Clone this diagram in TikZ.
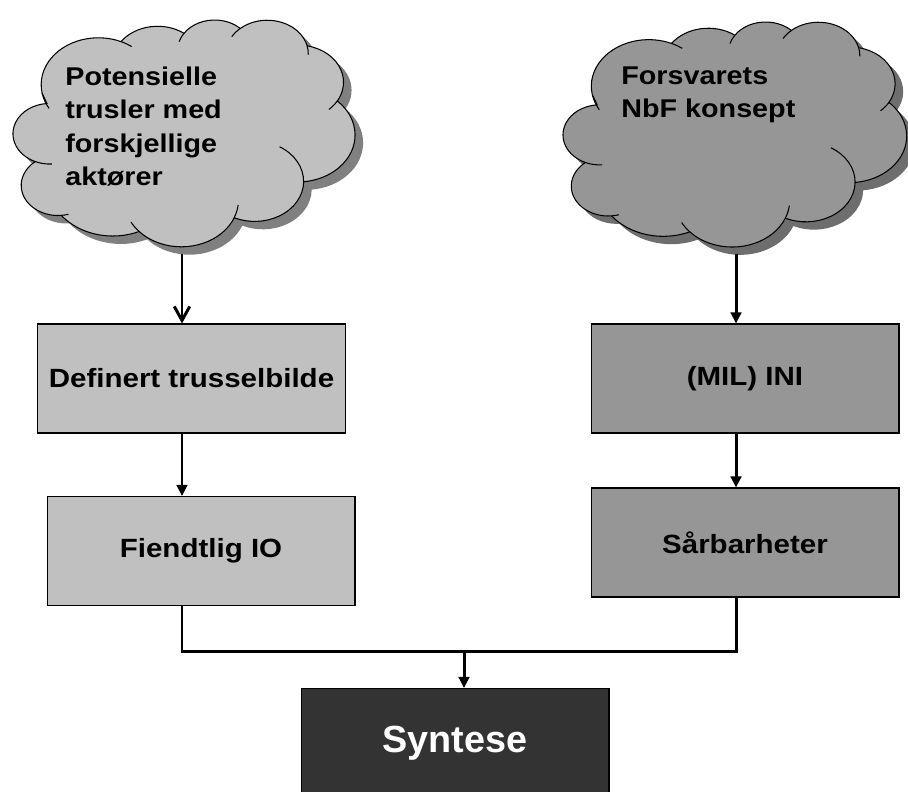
\documentclass[tikz,border=0pt]{standalone}
\usepackage{fontspec}
\setmainfont{Liberation Sans}[FakeStretch=1.12]
\newfontfamily\plainsans{Liberation Sans}
\usetikzlibrary{arrows.meta}

\definecolor{lightfill}{HTML}{C0C0C0}
\definecolor{midfill}{HTML}{969696}
\definecolor{darkfill}{HTML}{333333}
\definecolor{lightshadow}{HTML}{808080}
\definecolor{midshadow}{HTML}{6E6E6E}

% Cloud outline: eleven elliptic puffs on a 43.2 x 43.2 grid (y pointing down)
\def\cloudoutline{(3.900,14.370) coordinate (-j0)
  arc[start angle=-190.487, delta angle=123.781, x radius=6.753, y radius=9.190] coordinate (-j1)
  arc[start angle=-144.102, delta angle=89.945, x radius=5.333, y radius=7.267] coordinate (-j2)
  arc[start angle=-145.808, delta angle=99.723, x radius=4.365, y radius=5.945] coordinate (-j3)
  arc[start angle=-130.986, delta angle=117.242, x radius=4.857, y radius=6.595] coordinate (-j4)
  arc[start angle=-78.709, delta angle=109.027, x radius=5.333, y radius=7.273] coordinate (-j5)
  arc[start angle=-46.267, delta angle=130.269, x radius=6.775, y radius=9.220] coordinate (-j6)
  arc[start angle=0.625, delta angle=114.033, x radius=5.785, y radius=7.867] coordinate (-j7)
  arc[start angle=22.452, delta angle=115.173, x radius=6.752, y radius=9.215] coordinate (-j8)
  arc[start angle=66.243, delta angle=75.711, x radius=7.720, y radius=10.543] coordinate (-j9)
  arc[start angle=85.058, delta angle=146.736, x radius=4.360, y radius=5.918] coordinate (-j10)
  arc[start angle=113.171, delta angle=152.519, x radius=4.345, y radius=5.945]
  -- cycle}

\tikzset{
  cloudline/.style={draw=black, line width=0.6pt},
  pics/cloud/.style 2 args={code={
    % drop shadow, then the cloud, then the puff seams inside it
    \fill[#2, shift={(0.95,1.55)}] \cloudoutline;
    \path[cloudline, fill=#1] \cloudoutline;
    \draw[cloudline] (-j1) arc[start angle=-66.706, delta angle=12.3, x radius=6.753, y radius=9.190];
    \draw[cloudline] (-j2) arc[start angle=-145.808, delta angle=-17.7, x radius=4.365, y radius=5.945];
    \draw[cloudline] (-j3) arc[start angle=-130.986, delta angle=-18.2, x radius=4.857, y radius=6.595];
    \draw[cloudline] (-j4) arc[start angle=-13.744, delta angle=14.9, x radius=4.857, y radius=6.595];
    \draw[cloudline] (-j5) arc[start angle=30.318, delta angle=17, x radius=5.333, y radius=7.273];
    \draw[cloudline] (-j6) arc[start angle=0.625, delta angle=-60, x radius=5.785, y radius=7.867];
    \draw[cloudline] (-j7) arc[start angle=22.452, delta angle=-16, x radius=6.752, y radius=9.215];
    \draw[cloudline] (-j8) arc[start angle=137.625, delta angle=14.1, x radius=6.752, y radius=9.215];
    \draw[cloudline] (-j9) arc[start angle=85.058, delta angle=-11.4, x radius=4.360, y radius=5.918];
    \draw[cloudline] (-j10) arc[start angle=113.171, delta angle=-26.4, x radius=4.345, y radius=5.945];
    \draw[cloudline] (-j0) arc[start angle=-190.487, delta angle=-20, x radius=6.753, y radius=9.190];
  }},
  cloudtext/.style={anchor=west, inner sep=0pt, align=left,
    font=\bfseries\fontsize{14.6}{19}\selectfont},
  stepbox/.style={draw=black, line width=0.6pt, minimum width=6.16cm,
    minimum height=2.18cm, inner sep=0pt, font=\bfseries\fontsize{15}{18}\selectfont},
  lbox/.style={stepbox, fill=lightfill},
  rbox/.style={stepbox, fill=midfill},
  synbox/.style={draw=black, line width=0.6pt, fill=darkfill, text=white,
    minimum width=6.16cm, minimum height=2.2cm, inner sep=0pt,
    font=\plainsans\bfseries\fontsize{21.5}{26}\selectfont},
  conn/.style={line width=1.7pt, line join=miter},
  tri/.style={-{Triangle[length=0.22cm,width=0.21cm]}},
  barb/.style={-{Straight Barb[length=0.28cm,width=0.31cm,line join=miter]}}
}

\begin{document}
\begin{tikzpicture}[x=0.02cm, y=-0.02cm]
  \useasboundingbox (0,0) rectangle (908,791);
  \clip (0,0) rectangle (908,791);

  % two clouds
  \pic (lc) [shift={(9.1,19.9)}, xscale=8.47, yscale=5.1] {cloud={lightfill}{lightshadow}};
  \pic (rc) [shift={(559.1,21.9)}, xscale=8.51, yscale=5.06] {cloud={midfill}{midshadow}};

  \node[cloudtext] (lctext) at (65,126.5)
    {Potensielle\\trusler med\\forskjellige\\aktører};
  \node[cloudtext] (rctext) at (621,95.1) {Forsvarets\\NbF konsept};

  % boxes
  \node[lbox] (def) at (191.5,378.5) {Definert trusselbilde};
  \node[lbox] (fie) at (201,551) {Fiendtlig IO};
  \node[rbox] (mil) at (745,378.5) {(MIL) INI};
  \node[rbox] (sar) at (745,542.5) {Sårbarheter};
  \node[synbox] (syn) at (455,743.5) {Syntese};

  % connectors
  \coordinate (lcbase) at (182,254);
  \coordinate (rcbase) at (736,254);
  \coordinate (join) at (464,651);

  \draw[conn, barb] (lcbase) -- (lcbase |- def.north);
  \draw[conn, tri] (lcbase |- def.south) -- (lcbase |- fie.north);
  \draw[conn, tri] (rcbase) -- (rcbase |- mil.north);
  \draw[conn, tri] (rcbase |- mil.south) -- (rcbase |- sar.north);
  \draw[conn] (lcbase |- fie.south) |- (join) -| (rcbase |- sar.south);
  \draw[conn, tri] (join) -- (join |- syn.north);
\end{tikzpicture}
\end{document}
